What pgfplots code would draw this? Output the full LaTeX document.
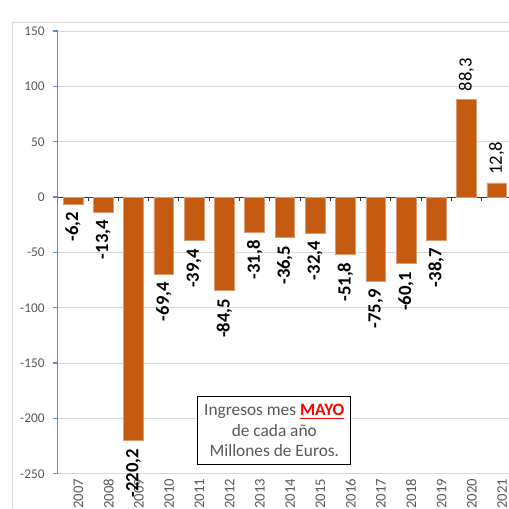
\documentclass[border=0pt]{standalone}
\usepackage{fontspec}
\setmainfont{Carlito}
\usepackage{pgfplots}
\pgfplotsset{compat=1.18}
\definecolor{barc}{RGB}{197,90,17}
\definecolor{txt}{RGB}{89,89,89}
\definecolor{gridc}{RGB}{217,217,217}
\definecolor{yax}{RGB}{91,140,214}

\begin{document}
\begin{tikzpicture}[x=0.75pt,y=0.75pt]
\path[use as bounding box] (0,0) rectangle (509,508);
\clip (0,0) rectangle (509,508);
% chart area border
\draw[gridc, line width=0.75pt] (12,-20) -- (12,485) -- (540,485);
\begin{axis}[
  at={(43.4pt,25.7pt)}, anchor=south west,
  scale only axis, width=340.5pt, height=332pt,
  ybar, bar width=14.8pt, bar shift=0pt,
  xmin=-0.5, xmax=14.5, ymin=-250, ymax=150,
  ytick={-250,-200,...,150},
  xtick={0,...,14},
  xticklabels={2007,2008,2009,2010,2011,2012,2013,2014,2015,2016,2017,2018,2019,2020,2021},
  x tick style={draw=none},
  xticklabel style={rotate=90, anchor=east, inner sep=0pt, yshift=-4pt,
    text=txt, font=\fontsize{11}{13}\selectfont},
  yticklabel style={text=txt, font=\fontsize{10}{12}\selectfont, inner sep=0pt, xshift=-6pt},
  /pgf/number format/assume math mode=true,
  axis lines*=left,
  axis line style={-},
  x axis line style={draw=none},
  y axis line style={yax, line width=0.9pt},
  y tick style={yax, line width=0.9pt},
  ytick align=outside, major tick length=3.75pt,
  ymajorgrids, grid style={gridc, line width=0.75pt},
  clip=false,
  point meta=explicit symbolic,
  nodes near coords,
]
\draw[black!80, line width=0.75pt] (axis cs:-0.5,0) -- (axis cs:14.5,0);
\pgfplotsinvokeforeach{0.5,1.5,2.5,3.5,4.5,5.5,6.5,7.5,8.5,9.5,10.5,11.5,12.5,13.5}{
  \draw[black!80, line width=0.75pt] (axis cs:#1,0) -- ([yshift=-3.2pt]axis cs:#1,0);
}
\addplot[fill=barc, draw=barc!60!white, line width=0.4pt,
  every node near coord/.append style={rotate=90, anchor=east, inner sep=6pt,
    text=black, font=\bfseries\fontsize{14}{16}\selectfont}]
  coordinates {
  (0,-6.2) [-6,2]
  (1,-13.4) [-13,4]
  (2,-220.2) [-220,2]
  (3,-69.4) [-69,4]
  (4,-39.4) [-39,4]
  (5,-84.5) [-84,5]
  (6,-31.8) [-31,8]
  (7,-36.5) [-36,5]
  (8,-32.4) [-32,4]
  (9,-51.8) [-51,8]
  (10,-75.9) [-75,9]
  (11,-60.1) [-60,1]
  (12,-38.7) [-38,7]
};
\addplot[fill=barc, draw=barc!60!white, line width=0.4pt,
  every node near coord/.append style={rotate=90, anchor=west, inner sep=6pt,
    text=black, font=\fontsize{14}{16}\selectfont}]
  coordinates {
  (13,88.3) [88,3]
  (14,12.8) [12,8]
};
\end{axis}
\node[draw=black, line width=0.75pt, fill=white, minimum width=114.5pt,
  minimum height=51.2pt, align=center, text=txt, inner sep=2pt,
  font=\fontsize{13}{15.4}\selectfont] at (274.3,77.2)
  {Ingresos mes \textcolor{red}{\bfseries\setbox0\hbox{MAYO}\rlap{\rule[-2.4pt]{\wd0}{1.1pt}}\box0}\\de cada año\\Millones de Euros.};
\end{tikzpicture}
\end{document}
